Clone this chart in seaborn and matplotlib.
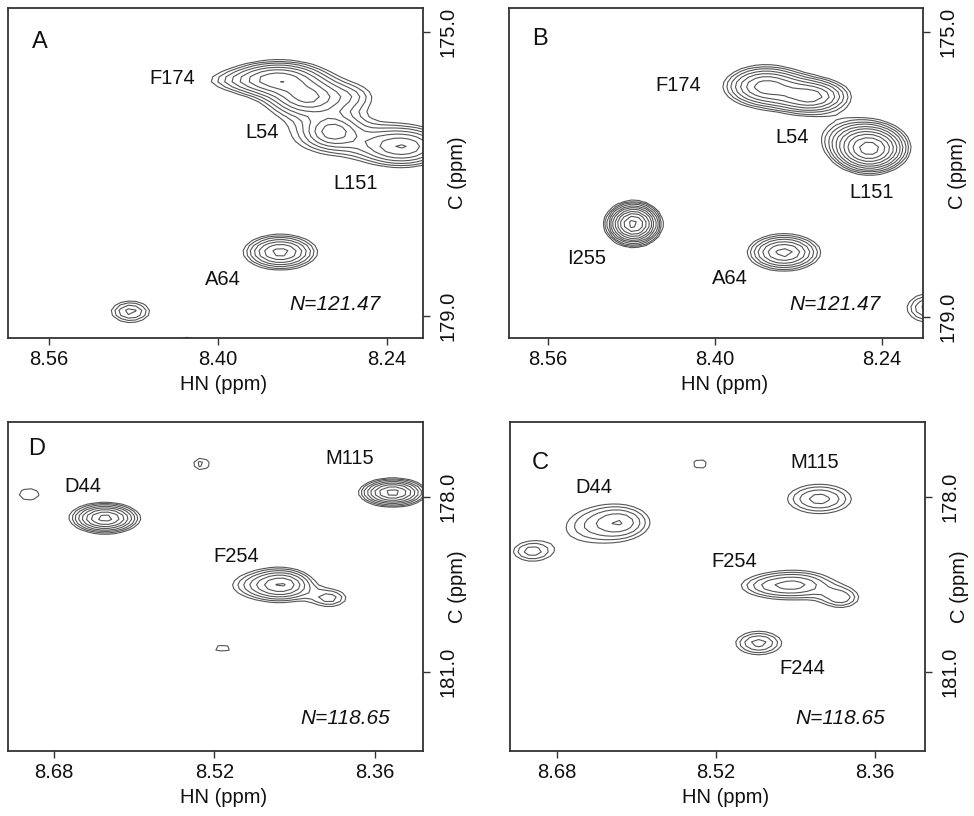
import numpy as np
import matplotlib
matplotlib.use("Agg")
import matplotlib.pyplot as plt
import seaborn as sns

sns.set_theme(style="ticks")
plt.rcParams['font.family'] = ['Liberation Sans', 'DejaVu Sans']

# ---------------- data: peak tables (HN ppm, C ppm, outer half-extent HN, outer half-extent C, contour rings)
# Panel A  (N = 121.47)
a_hn = [8.343, 8.316, 8.383, 8.303, 8.291, 8.262, 8.225, 8.341, 8.483, 8.429, 8.275]
a_c  = [175.66, 175.92, 175.68, 176.16, 176.40, 176.54, 176.62, 178.10, 178.94, 179.40, 175.90]
a_hx = [0.045, 0.033, 0.012, 0.016, 0.022, 0.020, 0.040, 0.035, 0.018, 0.012, 0.008]
a_hy = [0.26, 0.24, 0.05, 0.14, 0.20, 0.08, 0.27, 0.25, 0.15, 0.10, 0.06]
a_n  = [7, 6, 1, 1, 5, 1, 6, 7, 4, 2, 1]
a_labels = ["F174", "L54", "L151", "A64"]
a_lab_hn = [8.443, 8.358, 8.270, 8.395]
a_lab_c  = [175.65, 176.41, 177.13, 178.49]

# Panel B  (N = 121.47)
b_hn = [8.352, 8.308, 8.252, 8.266, 8.478, 8.334, 8.196]
b_c  = [175.76, 175.90, 176.64, 176.46, 177.69, 178.09, 178.87]
b_hx = [0.040, 0.038, 0.038, 0.026, 0.028, 0.035, 0.020]
b_hy = [0.30, 0.26, 0.36, 0.19, 0.33, 0.26, 0.20]
b_n  = [7, 7, 10, 3, 11, 7, 4]
b_labels = ["F174", "L54", "L151", "I255", "A64"]
b_lab_hn = [8.435, 8.326, 8.250, 8.523, 8.386]
b_lab_c  = [175.75, 176.48, 177.25, 178.17, 178.45]

# Panel D  (N = 118.65)
d_hn = [8.629, 8.342, 8.452, 8.478, 8.405, 8.705, 8.533, 8.512]
d_c  = [178.37, 177.93, 179.51, 179.52, 179.74, 177.96, 177.44, 180.60]
d_hx = [0.035, 0.034, 0.030, 0.020, 0.016, 0.010, 0.008, 0.009]
d_hy = [0.27, 0.25, 0.27, 0.15, 0.14, 0.10, 0.10, 0.05]
d_n  = [8, 8, 6, 2, 3, 1, 2, 1]
d_labels = ["D44", "M115", "F254"]
d_lab_hn = [8.651, 8.385, 8.498]
d_lab_c  = [177.83, 177.35, 179.03]

# Panel C  (N = 118.65)
c_hn = [8.616, 8.652, 8.705, 8.536, 8.416, 8.437, 8.468, 8.394, 8.477]
c_c  = [178.43, 178.52, 178.93, 177.43, 178.03, 179.50, 179.52, 179.73, 180.50]
c_hx = [0.028, 0.012, 0.018, 0.007, 0.032, 0.033, 0.020, 0.016, 0.023]
c_hy = [0.27, 0.13, 0.16, 0.08, 0.25, 0.22, 0.12, 0.15, 0.20]
c_n  = [4, 1, 3, 1, 4, 4, 2, 3, 4]
c_labels = ["D44", "M115", "F254", "F244"]
c_lab_hn = [8.643, 8.421, 8.502, 8.433]
c_lab_c  = [177.84, 177.41, 179.11, 180.94]

ab_xticks = [8.56, 8.40, 8.24]
ab_yticks = [175.0, 179.0]
dc_xticks = [8.68, 8.52, 8.36]
dc_yticks = [178.0, 181.0]

BASE = 1.0
FACTOR = 1.3
SHAPE_P = 1.75
LEVELS = BASE * FACTOR ** np.arange(0, 18)
CONTOUR_COLOR = "#555555"


def spectrum(H, C, hn, c, hx, hy, n):
    Z = np.zeros_like(H)
    for p_hn, p_c, p_hx, p_hy, p_n in zip(hn, c, hx, hy, n):
        height = BASE * FACTOR ** (p_n - 0.5)
        r_out = np.log(height / BASE) ** (1.0 / SHAPE_P)
        sx, sy = p_hx / r_out, p_hy / r_out
        r = np.sqrt(((H - p_hn) / sx) ** 2 + ((C - p_c) / sy) ** 2)
        Z += height * np.exp(-r ** SHAPE_P)
    return Z


def panel(fig, rect, xlim, ylim, peaks, labels, lab_hn, lab_c, xticks, yticks,
          letter, letter_xy, ntext, ntext_xy, hn_step, c_step):
    ax = fig.add_axes(rect)
    hn_axis = np.arange(min(xlim) - 0.05, max(xlim) + 0.05, hn_step)
    c_axis = np.arange(min(ylim) - 0.5, max(ylim) + 0.5, c_step)
    H, Cg = np.meshgrid(hn_axis, c_axis)
    Z = spectrum(H, Cg, *peaks)
    ax.contour(H, Cg, Z, levels=LEVELS, colors=CONTOUR_COLOR, linewidths=0.8)
    ax.set_xlim(*xlim)
    ax.set_ylim(*ylim)
    ax.set_xticks(xticks)
    ax.set_xticklabels([f"{t:.2f}" for t in xticks])
    ax.set_yticks(yticks)
    ax.set_yticklabels([f"{t:.1f}" for t in yticks])
    ax.yaxis.tick_right()
    ax.yaxis.set_label_position("right")
    ax.tick_params(axis="both", direction="out", length=5, width=1.0,
                   color="#333333", labelsize=14.5, labelcolor="#111111")
    ax.tick_params(axis="y", pad=6)
    ax.tick_params(axis="x", pad=4)
    for lbl in ax.get_yticklabels():
        lbl.set_rotation(90)
        lbl.set_va("center")
    for sp in ax.spines.values():
        sp.set_visible(True)
        sp.set_color("#333333")
        sp.set_linewidth(1.3)
    ax.set_xlabel("HN (ppm)", fontsize=14.5, color="#111111", labelpad=2)
    ax.xaxis.set_label_coords(0.52, -0.112)
    ax.set_ylabel("C (ppm)", fontsize=14.5, color="#111111", rotation=90)
    ax.yaxis.set_label_coords(1.06, 0.5)
    for t, x, y in zip(labels, lab_hn, lab_c):
        ax.text(x, y, t, fontsize=14.5, ha="center", va="center", color="#111111")
    ax.text(letter_xy[0], letter_xy[1], letter, transform=ax.transAxes,
            fontsize=17, ha="center", va="center", color="#111111")
    ax.text(ntext_xy[0], ntext_xy[1], ntext, transform=ax.transAxes,
            fontsize=15, ha="center", va="center", style="italic", color="#111111")
    return ax


fig = plt.figure(figsize=(9.74, 8.16), dpi=100)
fig.patch.set_facecolor("white")

panel(fig, [0.0082, 0.5858, 0.426, 0.4044], (8.599, 8.206), (179.31, 174.66),
      (a_hn, a_c, a_hx, a_hy, a_n), a_labels, a_lab_hn, a_lab_c,
      ab_xticks, ab_yticks, "A", (0.077, 0.897), "N=121.47", (0.788, 0.10),
      0.007, 0.07)
panel(fig, [0.5226, 0.5858, 0.425, 0.4044], (8.597, 8.201), (179.29, 174.66),
      (b_hn, b_c, b_hx, b_hy, b_n), b_labels, b_lab_hn, b_lab_c,
      ab_xticks, ab_yticks, "B", (0.075, 0.906), "N=121.47", (0.787, 0.10),
      0.007, 0.07)
panel(fig, [0.0082, 0.0797, 0.426, 0.4032], (8.726, 8.312), (182.36, 176.72),
      (d_hn, d_c, d_hx, d_hy, d_n), d_labels, d_lab_hn, d_lab_c,
      dc_xticks, dc_yticks, "D", (0.07, 0.918), "N=118.65", (0.812, 0.10),
      0.007, 0.07)
panel(fig, [0.5236, 0.0797, 0.426, 0.4032], (8.727, 8.310), (182.35, 176.71),
      (c_hn, c_c, c_hx, c_hy, c_n), c_labels, c_lab_hn, c_lab_c,
      dc_xticks, dc_yticks, "C", (0.072, 0.875), "N=118.65", (0.795, 0.10),
      0.007, 0.07)

fig.savefig("out.png", dpi=100, facecolor="white")
